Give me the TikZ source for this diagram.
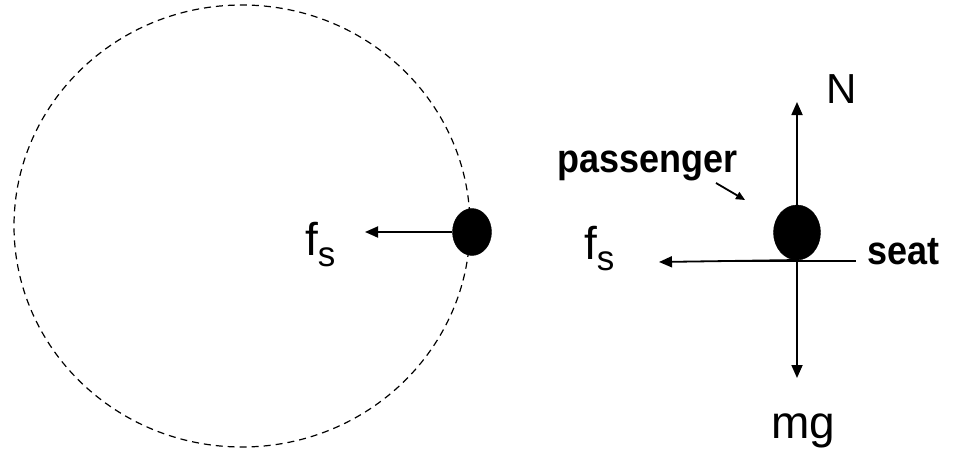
\documentclass[tikz,border=0pt]{standalone}
\usepackage{fontspec}
\setmainfont{Liberation Sans}
\usetikzlibrary{arrows.meta}
\tikzset{
  force/.style={line width=1.8pt, -{Triangle[length=13pt,width=11pt]}},
  pointer/.style={line width=1.8pt, -{Triangle[length=9pt,width=8pt]}},
  blob/.style={ellipse, fill=black, draw=black, inner sep=0pt},
  lbl/.style={inner sep=0pt, anchor=base west},
}
\usetikzlibrary{shapes.geometric}
\newcommand{\fsLabel}{\fontsize{46}{46}\selectfont f\raisebox{-11pt}{\fontsize{35}{35}\selectfont s}}
\begin{document}
\begin{tikzpicture}[x=1pt,y=-1pt]
\useasboundingbox (0,0) rectangle (955,452);
% left: circular path
\draw[line width=1.2pt, dash pattern=on 7pt off 5pt] (242,226) ellipse [x radius=228, y radius=221];
\node[blob, minimum width=39pt, minimum height=47pt] (dotA) at (472,232) {};
\coordinate (fsAtip) at (365,232);
\draw[force] (dotA.west) -- (fsAtip);
\node[lbl] (fsA) at (305,255) {\fsLabel};
% right: free body diagram
\coordinate (contact) at (797,261);
\coordinate (Ntip) at (797,102);
\coordinate (mgtip) at (797,378);
\coordinate (fsBtip) at (659,262);
\coordinate (seatL) at (730,261);
\coordinate (seatR) at (856,261);
\draw[line width=1.5pt] (seatL) -- (seatR);
\draw[force] (contact) -- (Ntip);
\draw[force] (contact) -- (mgtip);
\draw[force] ([yshift=1pt]contact) -- (fsBtip);
\node[blob, minimum width=47pt, minimum height=55pt] (dotB) at (797,232.5) {};
\node[lbl] (N) at (826,103) {\fontsize{42}{42}\selectfont N};
\node[lbl] (mg) at (771,438) {\fontsize{46}{46}\selectfont mg};
\node[lbl] (fsB) at (584,259) {\fsLabel};
\node[lbl] (seat) at (867,264) {\scalebox{0.9}[1]{\fontsize{40}{40}\selectfont\bfseries seat}};
\node[lbl] (pass) at (557,172) {\scalebox{0.9}[1]{\fontsize{40}{40}\selectfont\bfseries passenger}};
\coordinate (pA) at (716,183);
\coordinate (pB) at (745,200);
\draw[pointer] (pA) -- (pB);
\end{tikzpicture}
\end{document}
